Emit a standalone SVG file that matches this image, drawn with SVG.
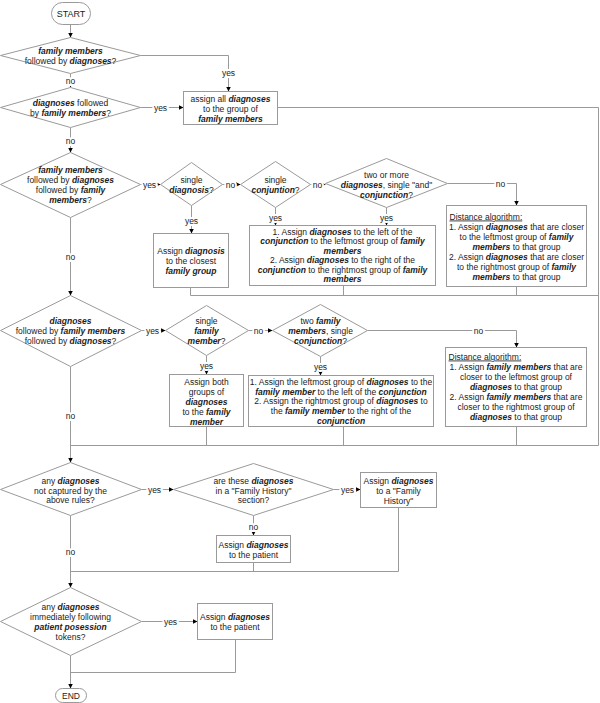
<svg xmlns="http://www.w3.org/2000/svg" width="600" height="703" viewBox="0 0 600 703">
<style>
.s{fill:#fff;stroke:#9a9a9a;stroke-width:1}
.c{fill:none;stroke:#9a9a9a;stroke-width:1}
.a{marker-end:url(#ah)}
text{font-family:"Liberation Sans",Arial,sans-serif;font-size:8.5px;fill:#222;text-anchor:middle}
.b{font-weight:bold;font-style:italic}
.l{stroke:#fff;stroke-width:4px;paint-order:stroke}
.u{text-decoration:underline;text-anchor:start}
</style>
<defs>
<marker id="ah" viewBox="0 0 6 6" refX="6" refY="3" markerWidth="5" markerHeight="5" markerUnits="userSpaceOnUse" orient="auto"><path d="M0,0 L6,3 L0,6 z" fill="#000"/></marker>
</defs>
<rect width="600" height="703" fill="#fff"/>
<g transform="translate(0.5,0.5)">
<g id="connectors">
<path class="c a" d="M70,24 V37"/>
<path class="c a" d="M140,55 H228 V91"/>
<path class="c a" d="M70,73 V87"/>
<path class="c a" d="M140,107 H183"/>
<path class="c" d="M277,107 H598 V445 H70"/>
<path class="c a" d="M70,127 V152"/>
<path class="c a" d="M140,184 H160"/>
<path class="c a" d="M222,184 H240"/>
<path class="c a" d="M310,184 H325"/>
<path class="c a" d="M447,183 H516 V205"/>
<path class="c a" d="M191,205 V233"/>
<path class="c a" d="M275,207 V225"/>
<path class="c a" d="M386,207 V225"/>
<path class="c" d="M190,287 V295 H598"/>
<path class="c" d="M343,285 V295"/>
<path class="c" d="M516,286 V295"/>
<path class="c a" d="M70,217 V295"/>
<path class="c a" d="M141,330 H165"/>
<path class="c a" d="M248,330 H272"/>
<path class="c a" d="M367,330 H516 V347"/>
<path class="c a" d="M206,355 V374"/>
<path class="c a" d="M320,356 V375"/>
<path class="c" d="M206,426 V445"/>
<path class="c" d="M343,426 V445"/>
<path class="c" d="M516,426 V445"/>
<path class="c a" d="M70,366 V462"/>
<path class="c a" d="M141,489 H173"/>
<path class="c a" d="M333,489 H360"/>
<path class="c a" d="M253,515 V535"/>
<path class="c" d="M398,507 V571 H70"/>
<path class="c" d="M253,562 V571"/>
<path class="c a" d="M70,515 V587"/>
<path class="c a" d="M141,621 H197"/>
<path class="c" d="M235,639 V672 H70"/>
<path class="c a" d="M70,655 V688"/>
<text class="l" x="228" y="75">yes</text>
<text class="l" x="70" y="83">no</text>
<text class="l" x="160" y="110">yes</text>
<text class="l" x="70" y="143">no</text>
<text class="l" x="149" y="187">yes</text>
<text class="l" x="230" y="187">no</text>
<text class="l" x="317" y="187">no</text>
<text class="l" x="500" y="186">no</text>
<text class="l" x="191" y="223">yes</text>
<text class="l" x="275" y="220">yes</text>
<text class="l" x="386" y="220">yes</text>
<text class="l" x="70" y="259">no</text>
<text class="l" x="152" y="333">yes</text>
<text class="l" x="258" y="333">no</text>
<text class="l" x="478" y="333">no</text>
<text class="l" x="206" y="368">yes</text>
<text class="l" x="320" y="369">yes</text>
<text class="l" x="70" y="418">no</text>
<text class="l" x="154" y="492">yes</text>
<text class="l" x="347" y="492">yes</text>
<text class="l" x="253" y="529">no</text>
<text class="l" x="70" y="554">no</text>
<text class="l" x="170" y="624">yes</text>
</g>
<g id="start"><rect class="s" x="51" y="2" width="39" height="22" rx="11"/><text x="70.5" y="16" style="font-size:9px">START</text></g>
<g id="d1"><polygon class="s" points="0,55 70,37 140,55 70,73"/>
<text x="70" y="53"><tspan class="b">family members</tspan></text>
<text x="70" y="63">followed by <tspan class="b">diagnoses</tspan>?</text></g>
<g id="d2"><polygon class="s" points="0,107 70,87 140,107 70,127"/>
<text x="70" y="105"><tspan class="b">diagnoses</tspan> followed</text>
<text x="70" y="115">by <tspan class="b">family members</tspan>?</text></g>
<g id="box1"><rect class="s" x="183" y="91" width="94" height="33"/>
<text x="230" y="101">assign all <tspan class="b">diagnoses</tspan></text>
<text x="230" y="111">to the group of</text>
<text x="230" y="121"><tspan class="b">family members</tspan></text></g>
<g id="d3"><polygon class="s" points="0,184 70,152 140,184 70,217"/>
<text x="70" y="172"><tspan class="b">family members</tspan></text>
<text x="70" y="182">followed by <tspan class="b">diagnoses</tspan></text>
<text x="70" y="192">followed by <tspan class="b">family</tspan></text>
<text x="70" y="202"><tspan class="b">members</tspan>?</text></g>
<g id="sd"><polygon class="s" points="160,184 191,162 222,184 191,205"/>
<text x="191" y="182">single</text>
<text x="191" y="192"><tspan class="b">diagnosis</tspan>?</text></g>
<g id="sc"><polygon class="s" points="240,184 275,161 310,184 275,207"/>
<text x="275" y="182">single</text>
<text x="275" y="192"><tspan class="b">conjuntion</tspan>?</text></g>
<g id="tm"><polygon class="s" points="325,183 386,158 447,183 386,207"/>
<text x="386" y="177">two or more</text>
<text x="386" y="187"><tspan class="b">diagnoses</tspan>, single "and"</text>
<text x="386" y="197"><tspan class="b">conjunction</tspan>?</text></g>
<g id="da1"><rect class="s" x="446" y="205" width="140" height="81"/>
<text class="u" x="449" y="219">Distance algorithm:</text>
<text x="516" y="229">1. Assign <tspan class="b">diagnoses</tspan> that are closer</text>
<text x="516" y="239">to the leftmost group of <tspan class="b">family</tspan></text>
<text x="516" y="249"><tspan class="b">members</tspan> to that group</text>
<text x="516" y="259">2. Assign <tspan class="b">diagnoses</tspan> that are closer</text>
<text x="516" y="269">to the rightmost group of <tspan class="b">family</tspan></text>
<text x="516" y="279"><tspan class="b">members</tspan> to that group</text></g>
<g id="ad"><rect class="s" x="153" y="233" width="75" height="54"/>
<text x="190.5" y="253">Assign <tspan class="b">diagnosis</tspan></text>
<text x="190.5" y="263">to the closest</text>
<text x="190.5" y="273"><tspan class="b">family group</tspan></text></g>
<g id="mb1"><rect class="s" x="249" y="225" width="186" height="60"/>
<text x="342" y="234">1. Assign <tspan class="b">diagnoses</tspan> to the left of the</text>
<text x="342" y="243.5"><tspan class="b">conjunction</tspan> to the leftmost group of <tspan class="b">family</tspan></text>
<text x="342" y="253"><tspan class="b">members</tspan></text>
<text x="342" y="262.5">2. Assign <tspan class="b">diagnoses</tspan> to the right of the</text>
<text x="342" y="272"><tspan class="b">conjunction</tspan> to the rightmost group of <tspan class="b">family</tspan></text>
<text x="342" y="281.5"><tspan class="b">members</tspan></text></g>
<g id="d4"><polygon class="s" points="0,330 70,295 141,330 70,366"/>
<text x="70" y="323"><tspan class="b">diagnoses</tspan></text>
<text x="70" y="333">followed by <tspan class="b">family members</tspan></text>
<text x="70" y="343">followed by <tspan class="b">diagnoses</tspan>?</text></g>
<g id="sf"><polygon class="s" points="165,330 206,305 248,330 206,355"/>
<text x="206" y="323">single</text>
<text x="206" y="333"><tspan class="b">family</tspan></text>
<text x="206" y="343"><tspan class="b">member</tspan>?</text></g>
<g id="tf"><polygon class="s" points="272,330 320,304 367,330 320,356"/>
<text x="320" y="323">two <tspan class="b">family</tspan></text>
<text x="320" y="333"><tspan class="b">members</tspan>, single</text>
<text x="320" y="343"><tspan class="b">conjunction</tspan>?</text></g>
<g id="da2"><rect class="s" x="445" y="347" width="141" height="79"/>
<text class="u" x="448" y="359">Distance algorithm:</text>
<text x="515.5" y="369">1. Assign <tspan class="b">family members</tspan> that are</text>
<text x="515.5" y="379">closer to the leftmost group of</text>
<text x="515.5" y="389"><tspan class="b">diagnoses</tspan> to that group</text>
<text x="515.5" y="399">2. Assign <tspan class="b">family members</tspan> that are</text>
<text x="515.5" y="409">closer to the rightmost group of</text>
<text x="515.5" y="419"><tspan class="b">diagnoses</tspan> to that group</text></g>
<g id="ab"><rect class="s" x="169" y="374" width="74" height="52"/>
<text x="206" y="384">Assign both</text>
<text x="206" y="394">groups of</text>
<text x="206" y="404"><tspan class="b">diagnoses</tspan></text>
<text x="206" y="414">to the <tspan class="b">family</tspan></text>
<text x="206" y="424"><tspan class="b">member</tspan></text></g>
<g id="mb2"><rect class="s" x="248" y="375" width="185" height="51"/>
<text x="340.5" y="384">1. Assign the leftmost group of <tspan class="b">diagnoses</tspan> to the</text>
<text x="340.5" y="394"><tspan class="b">family member</tspan> to the left of the <tspan class="b">conjunction</tspan></text>
<text x="340.5" y="403">2. Assign the rightmost group of <tspan class="b">diagnoses</tspan> to</text>
<text x="340.5" y="413">the <tspan class="b">family member</tspan> to the right of the</text>
<text x="340.5" y="423"><tspan class="b">conjunction</tspan></text></g>
<g id="d5"><polygon class="s" points="0,489 70,462 141,489 70,515"/>
<text x="70" y="483">any <tspan class="b">diagnoses</tspan></text>
<text x="70" y="493">not captured by the</text>
<text x="70" y="502">above rules?</text></g>
<g id="d6"><polygon class="s" points="173,489 253,463 333,489 253,515"/>
<text x="253" y="483">are these <tspan class="b">diagnoses</tspan></text>
<text x="253" y="493">in a "Family History"</text>
<text x="253" y="502">section?</text></g>
<g id="fh"><rect class="s" x="360" y="472" width="76" height="35"/>
<text x="398" y="483">Assign <tspan class="b">diagnoses</tspan></text>
<text x="398" y="493">to a "Family</text>
<text x="398" y="503">History"</text></g>
<g id="pt"><rect class="s" x="216" y="535" width="74" height="27"/>
<text x="253" y="547">Assign <tspan class="b">diagnoses</tspan></text>
<text x="253" y="557">to the patient</text></g>
<g id="d7"><polygon class="s" points="0,621 70,587 141,621 70,655"/>
<text x="70" y="609">any <tspan class="b">diagnoses</tspan></text>
<text x="70" y="619">immediately following</text>
<text x="70" y="629"><tspan class="b">patient posession</tspan></text>
<text x="70" y="639">tokens?</text></g>
<g id="pt2"><rect class="s" x="197" y="603" width="75" height="36"/>
<text x="234.5" y="619">Assign <tspan class="b">diagnoses</tspan></text>
<text x="234.5" y="629">to the patient</text></g>
<g id="end"><rect class="s" x="55" y="688" width="31" height="14" rx="7"/><text x="70.5" y="698.5">END</text></g>
</g>
</svg>
